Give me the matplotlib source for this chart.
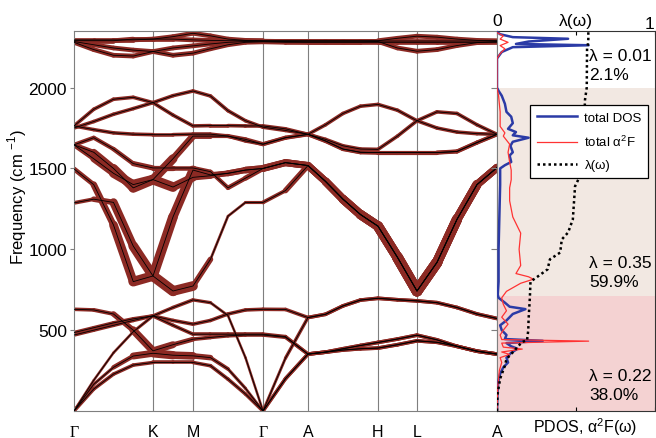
import numpy as np
import matplotlib.pyplot as plt
from matplotlib.collections import LineCollection

plt.rcParams['font.family'] = ['Liberation Sans', 'DejaVu Sans']
plt.rcParams['mathtext.fontset'] = 'custom'
plt.rcParams['mathtext.rm'] = 'Liberation Sans'
plt.rcParams['font.size'] = 11

# high symmetry path
kpt_pos = [0, 79, 119, 189, 234, 304, 343, 423]
kpt_labels = ['Γ', 'K', 'M', 'Γ', 'A', 'H', 'L', 'A']
seg_steps = [4, 2, 4, 2, 4, 2, 4]

# band frequencies (cm-1) at the nodes along the path
L1 = [0, 136, 228, 284, 300, 300, 300, 280, 197, 105, 0, 200, 352, 364, 377, 385, 389, 410, 434, 425, 400, 370, 352]
L2 = [0, 165, 270, 340, 357, 345, 341, 330, 260, 140, 0, 200, 352, 364, 385, 405, 424, 445, 469, 440, 400, 370, 352]
L3 = [0, 190, 360, 490, 588, 640, 687, 670, 590, 330, 0, 327, 578, 598, 650, 686, 697, 688, 681, 670, 640, 600, 572]
L4 = [629, 625, 600, 500, 372, 410, 444, 455, 465, 470, 470, 456, 352, 364, 377, 385, 389, 410, 434, 425, 400, 370, 352]
L5 = [470, 500, 530, 560, 588, 530, 475, 475, 475, 475, 475, 460, 352, 364, 385, 405, 424, 445, 469, 440, 400, 370, 352]
L6 = [485, 515, 545, 570, 588, 560, 537, 560, 600, 625, 629, 628, 578, 598, 650, 686, 697, 688, 681, 670, 640, 600, 572]
D1 = [1497, 1400, 1150, 800, 835, 1200, 1490, 1460, 1470, 1490, 1500, 1536, 1518, 1420, 1310, 1215, 1143, 950, 742, 919, 1185, 1400, 1505]
D2 = [1287, 1310, 1290, 1020, 835, 742, 773, 938, 1205, 1290, 1290, 1363, 1518, 1420, 1310, 1215, 1143, 950, 742, 919, 1185, 1400, 1505]
E1 = [1646, 1690, 1620, 1530, 1503, 1503, 1503, 1480, 1380, 1440, 1500, 1536, 1518, 1420, 1310, 1215, 1143, 950, 742, 919, 1185, 1400, 1505]
F1 = [1646, 1560, 1470, 1400, 1431, 1560, 1700, 1700, 1700, 1680, 1650, 1690, 1711, 1670, 1620, 1600, 1598, 1598, 1598, 1598, 1605, 1660, 1711]
F2 = [1646, 1600, 1500, 1380, 1431, 1385, 1445, 1455, 1470, 1490, 1500, 1536, 1518, 1420, 1310, 1215, 1143, 950, 742, 919, 1185, 1400, 1505]
G1 = [1763, 1866, 1928, 1940, 1907, 1830, 1763, 1765, 1765, 1763, 1763, 1745, 1711, 1770, 1840, 1885, 1896, 1860, 1795, 1750, 1725, 1715, 1711]
G2 = [1750, 1790, 1835, 1870, 1907, 1950, 1979, 1948, 1857, 1795, 1755, 1735, 1711, 1680, 1640, 1620, 1618, 1700, 1795, 1850, 1840, 1770, 1711]
G3 = [1763, 1740, 1720, 1712, 1709, 1709, 1712, 1712, 1700, 1670, 1650, 1690, 1711, 1670, 1620, 1600, 1598, 1598, 1598, 1598, 1605, 1660, 1711]
T1 = [2295, 2295, 2295, 2295, 2300, 2315, 2336, 2320, 2300, 2292, 2290, 2290, 2290, 2290, 2290, 2290, 2290, 2305, 2318, 2312, 2300, 2292, 2290]
T2 = [2285, 2265, 2245, 2232, 2223, 2245, 2258, 2270, 2280, 2285, 2287, 2285, 2283, 2283, 2283, 2283, 2285, 2245, 2225, 2235, 2260, 2278, 2285]
T3 = [2280, 2235, 2200, 2195, 2223, 2200, 2213, 2240, 2265, 2280, 2283, 2280, 2280, 2280, 2280, 2280, 2280, 2280, 2280, 2280, 2280, 2280, 2280]
T4 = [2290, 2290, 2290, 2300, 2300, 2300, 2295, 2292, 2290, 2290, 2288, 2288, 2288, 2288, 2288, 2288, 2288, 2288, 2288, 2288, 2288, 2288, 2288]

bands = [L1, L2, L3, L4, L5, L6, D1, D2, E1, F1, F2, G1, G2, G3, T1, T2, T3, T4]
band_names = ['L1', 'L2', 'L3', 'L4', 'L5', 'L6', 'D1', 'D2', 'E1', 'F1', 'F2',
              'G1', 'G2', 'G3', 'T1', 'T2', 'T3', 'T4']

# electron-phonon coupling drawn as line width (pt); default for the rest
default_w = 2.6
band_w = {
    'L2': [2, 2, 2.5, 4, 6, 6, 5, 3, 2.5, 2, 2, 2.6, 2.6, 2.6, 2.6, 2.6, 2.6, 2.6, 2.6, 2.6, 2.6, 2.6, 2.6],
    'L3': [1.8, 1.8, 1.8, 2, 2.4, 2.6, 2.6, 2.2, 1.8, 1.8, 1.8, 2.2, 2.6, 2.6, 2.6, 2.6, 2.6, 2.6, 2.6, 2.6, 2.6, 2.6, 2.6],
    'L4': [2.6, 2.6, 3, 5, 6, 4, 3, 2.6, 2.6, 2.6, 2.6, 2.6, 2.6, 2.6, 2.6, 2.6, 2.6, 2.6, 2.6, 2.6, 2.6, 2.6, 2.6],
    'D1': [3, 4, 5.5, 7, 7, 7, 6, 4, 4, 4.5, 5, 5, 5, 5.5, 6, 6.5, 7, 7.5, 8, 7.5, 7, 6, 5],
    'D2': [2.5, 3, 5, 7, 7, 8, 6, 2, 1.8, 2, 2.5, 3, 5, 5.5, 6, 6.5, 7, 7.5, 8, 7.5, 7, 6, 5],
    'E1': [3, 3, 3, 3.5, 4, 3.5, 3, 3, 3, 3.5, 4, 5, 5, 5.5, 6, 6.5, 7, 7.5, 8, 7.5, 7, 6, 5],
    'F1': [3, 4, 6, 7, 7, 6, 4, 3, 3, 3, 3, 3, 3, 3, 3, 3, 3, 3, 3, 3, 3, 3, 3],
    'F2': [3, 4, 6, 7, 7, 7, 5, 4, 4, 4.5, 5, 5, 5, 5.5, 6, 6.5, 7, 7.5, 8, 7.5, 7, 6, 5],
    'T1': [3.4] * 23, 'T2': [3.4] * 23, 'T3': [3.4] * 23, 'T4': [3.4] * 23,
}

# right panel: DOS, a2F and lambda(omega)
dos_freq = [0, 100, 180, 230, 270, 300, 330, 360, 385, 400, 420, 434, 445, 470, 500, 530, 560, 600, 630, 645, 670, 700, 720,
            800, 1000, 1200, 1400, 1500, 1520, 1540, 1580, 1600, 1640, 1665, 1690, 1705, 1725, 1745, 1780, 1820, 1850, 1900,
            1950, 1980, 2000, 2180, 2220, 2250, 2262, 2270, 2285, 2302, 2312, 2330, 2345]
dos_val = [0, 0.003, 0.008, 0.02, 0.04, 0.07, 0.06, 0.09, 0.13, 0.09, 0.06, 0.29, 0.05, 0.06, 0.03, 0.02, 0.06, 0.1, 0.18, 0.08,
           0.05, 0.01, 0.005, 0.01, 0.01, 0.015, 0.02, 0.02, 0.05, 0.09, 0.08, 0.1, 0.085, 0.1, 0.2, 0.1, 0.12, 0.07, 0.1, 0.09,
           0.06, 0.05, 0.03, 0.01, 0, 0, 0.03, 0.1, 0.58, 0.12, 0.2, 0.45, 0.1, 0.02, 0]
a2f_freq = [0, 150, 250, 300, 330, 350, 365, 383, 395, 420, 432, 442, 470, 500, 537, 580, 620, 660, 700, 740, 790, 815, 830,
            850, 900, 1000, 1100, 1200, 1300, 1380, 1430, 1490, 1540, 1600, 1650, 1700, 1720, 1760, 1850, 1950, 2000, 2180,
            2210, 2240, 2260, 2280, 2300, 2320, 2340]
a2f_val = [0, 0.005, 0.015, 0.03, 0.02, 0.08, 0.03, 0.16, 0.04, 0.03, 0.58, 0.03, 0.02, 0.04, 0.07, 0.03, 0.06, 0.04, 0.03,
           0.06, 0.15, 0.23, 0.2, 0.12, 0.15, 0.14, 0.15, 0.1, 0.08, 0.08, 0.09, 0.09, 0.08, 0.07, 0.08, 0.04, 0.05, 0.02, 0.02,
           0.01, 0, 0, 0.02, 0.05, 0.02, 0.07, 0.02, 0.04, 0]
lam_freq = [0, 100, 200, 280, 321, 363, 413, 428, 436, 500, 568, 700, 800, 826, 876, 938, 980, 1061, 1104, 1185, 1390, 1452,
            1550, 1700, 1925, 2000, 2250, 2265, 2300, 2350]
lam_val = [0, 0.003, 0.02, 0.05, 0.06, 0.10, 0.146, 0.16, 0.19, 0.198, 0.20, 0.208, 0.212, 0.25, 0.32, 0.335, 0.40, 0.41,
           0.45, 0.48, 0.494, 0.525, 0.54, 0.548, 0.557, 0.568, 0.57, 0.575, 0.578, 0.578]

region_edges = [0, 710, 2000]
region_colors = ['#f4d2d2', '#f2e8e2']
lam_text = ['λ = 0.01', 'λ = 0.35', 'λ = 0.22']
pct_text = ['2.1%', '59.9%', '38.0%']
text_freq = [2196, 920, 222]

RED = '#8c2a24'

# x nodes along the path
k_nodes = []
for i, n in enumerate(seg_steps):
    k_nodes.extend(np.linspace(kpt_pos[i], kpt_pos[i + 1], n + 1)[:-1])
k_nodes.append(kpt_pos[-1])
k_nodes = np.array(k_nodes)

fig = plt.figure(figsize=(6.56, 4.39), dpi=100)
ax = fig.add_axes([0.1128, 0.0615, 0.6448, 0.8656])

for x in kpt_pos[1:-1]:
    ax.axvline(x, color='#7f7f7f', lw=0.8, zorder=1)

for name, f in zip(band_names, bands):
    f = np.array(f, dtype=float)
    w = np.array(band_w.get(name, [default_w] * len(f)), dtype=float)
    pts = np.column_stack([k_nodes, f])
    segs = np.stack([pts[:-1], pts[1:]], axis=1)
    lc = LineCollection(segs, linewidths=(w[:-1] + w[1:]) / 2, colors=RED,
                        capstyle='round', joinstyle='round', zorder=2)
    ax.add_collection(lc)
for f in bands:
    ax.plot(k_nodes, f, color='k', lw=0.6, zorder=3)

ax.set_xlim(kpt_pos[0], kpt_pos[-1])
ax.set_ylim(0, 2350)
ax.set_xticks(kpt_pos)
ax.set_xticklabels(kpt_labels)
for lab in ax.get_xticklabels():
    if lab.get_text() == 'Γ':
        lab.set_family('Liberation Serif')
        lab.set_fontsize(13)
ax.tick_params(axis='x', length=0, pad=9, labelsize=11.5)
ax.set_yticks([500, 1000, 1500, 2000])
ax.tick_params(axis='y', direction='out', length=3, color='#7f7f7f', labelsize=12.5, pad=2)
ax.set_ylabel('Frequency (cm $^{-1}$)', fontsize=12)
ax.yaxis.set_label_coords(-0.107, 0.567)
for s in ax.spines.values():
    s.set_color('#7f7f7f')
    s.set_linewidth(0.8)

ax2 = fig.add_axes([0.7576, 0.0615, 0.2409, 0.8656])
for i in range(len(region_colors)):
    ax2.axhspan(region_edges[i], region_edges[i + 1], color=region_colors[i], lw=0, zorder=0)
ax2.plot(dos_val, dos_freq, color='#2b3ba6', lw=1.8, label='total DOS', zorder=3)
ax2.plot(a2f_val, a2f_freq, color='#ff3333', lw=0.9, label='total α$^2$F', zorder=4)
ax2.plot(lam_val, lam_freq, color='k', ls=(0, (1, 1.2)), lw=1.8, label='λ(ω)', zorder=5)
for lt, pt, fq in zip(lam_text, pct_text, text_freq):
    ax2.text(0.585, fq, lt, ha='left', va='center', fontsize=12.5)
    ax2.text(0.585, fq - 118, pt, ha='left', va='center', fontsize=12.5)
ax2.set_xlim(0, 1)
ax2.set_ylim(0, 2350)
ax2.set_xticks([0, 0.5, 1])
ax2.set_xticklabels(['0', 'λ(ω)', ''])
ax2.tick_params(axis='x', direction='in', length=3, top=True, labeltop=True,
                bottom=True, labelbottom=False, labelsize=12.5, pad=2)
ax2.text(0.998, 1.0, '1', transform=ax2.transAxes, ha='right', va='bottom', fontsize=12.5)
ax2.set_yticks([500, 1000, 1500, 2000])
ax2.tick_params(axis='y', direction='out', length=4, color='#7f7f7f', labelleft=False)
ax2.text(0.56, -0.04, 'PDOS, α$^2$F(ω)', transform=ax2.transAxes, ha='center', va='center', fontsize=11.5)
for s in ax2.spines.values():
    s.set_color('#333333')
    s.set_linewidth(0.8)
ax2.spines['left'].set_color('#7f7f7f')
leg = ax2.legend(loc='upper right', bbox_to_anchor=(1.0, 0.822), fontsize=9.5, handlelength=3.0,
                 fancybox=False, edgecolor='k', framealpha=1, borderpad=0.5, labelspacing=0.75,
                 handletextpad=0.6)
leg.get_frame().set_linewidth(0.9)

fig.savefig('out.png', dpi=100)
